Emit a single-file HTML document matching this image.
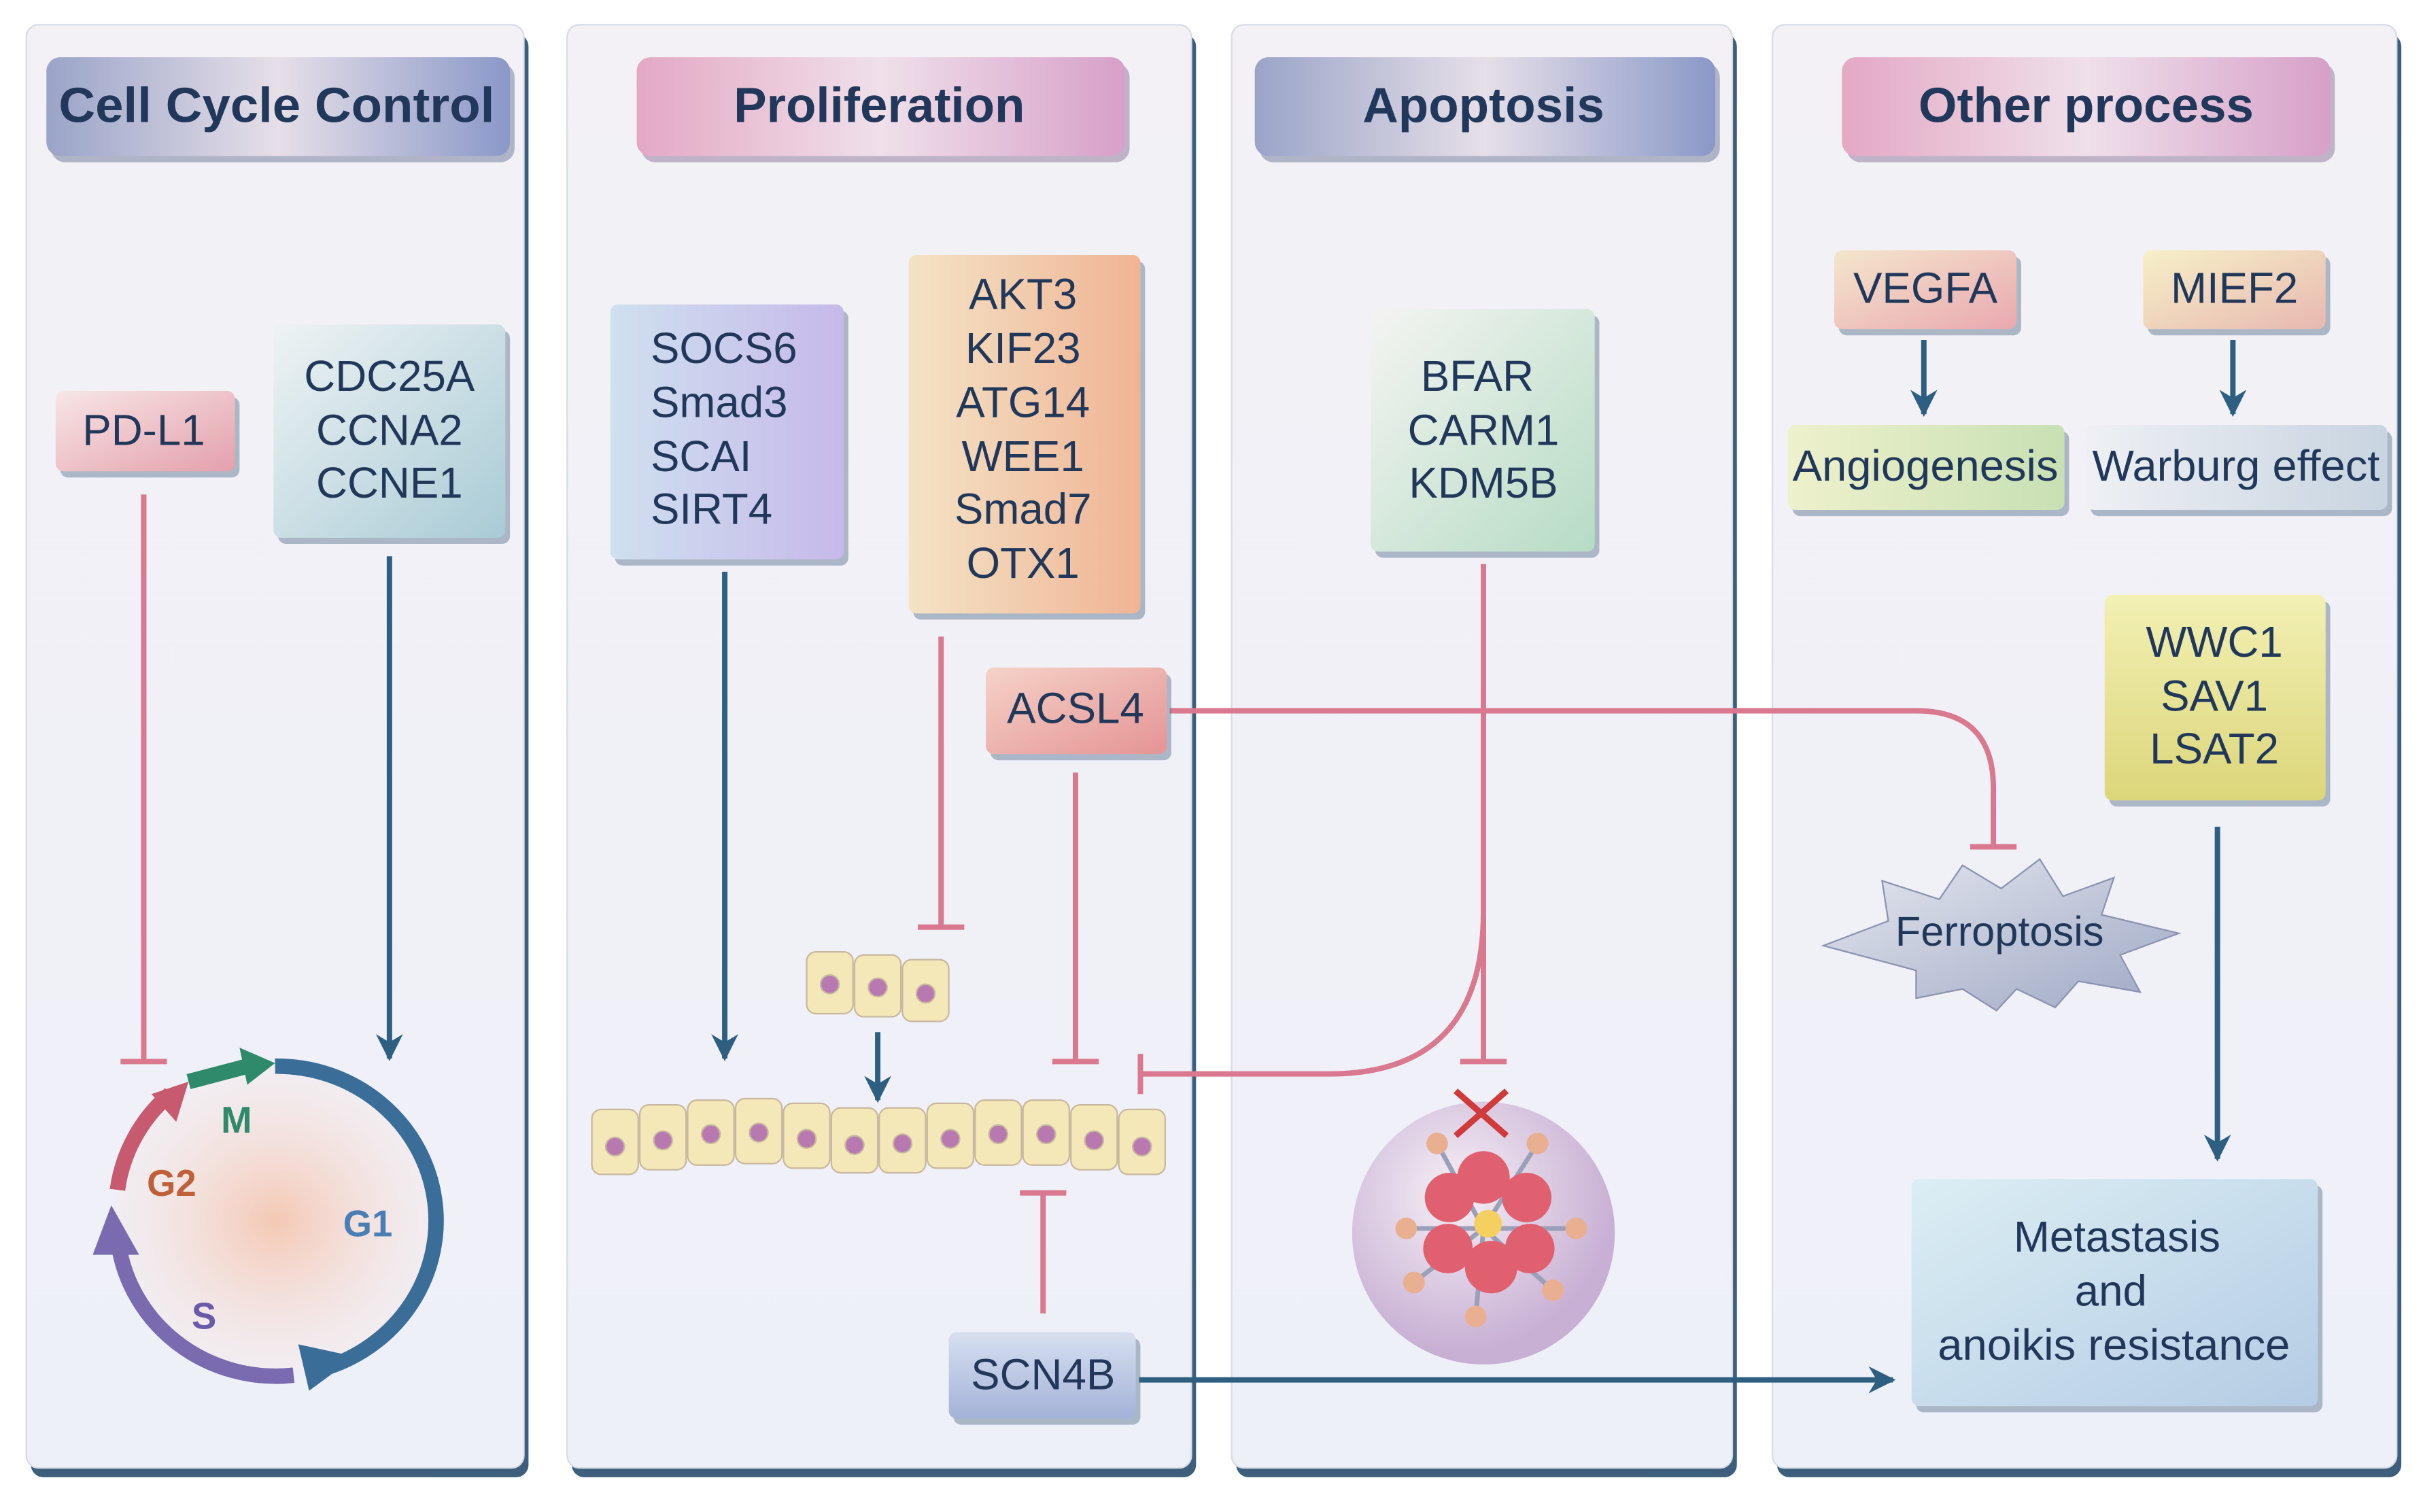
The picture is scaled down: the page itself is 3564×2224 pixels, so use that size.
<!DOCTYPE html>
<html><head><meta charset="utf-8"><style>
html,body{margin:0;padding:0;background:#fff;}
svg{display:block;}
text{font-family:"Liberation Sans",Arial,sans-serif;fill:#22385a;}
</style></head><body>
<svg width="3564" height="2224" viewBox="0 0 1568 978.5" xmlns="http://www.w3.org/2000/svg">
<defs>
<linearGradient id="pbg" x1="0" y1="0" x2="0" y2="1"><stop offset="0" stop-color="#f3f1f6"/><stop offset="1" stop-color="#eef0f8"/></linearGradient>
<linearGradient id="hblue" x1="0" y1="0" x2="1" y2="0"><stop offset="0" stop-color="#9aa4c8"/><stop offset=".5" stop-color="#e6dfe8"/><stop offset="1" stop-color="#8a98c8"/></linearGradient>
<linearGradient id="hpink" x1="0" y1="0" x2="1" y2="0"><stop offset="0" stop-color="#e4a8c4"/><stop offset=".5" stop-color="#efe0ea"/><stop offset="1" stop-color="#d7a0c8"/></linearGradient>
<linearGradient id="gpink" x1="0" y1="0" x2="1" y2="1"><stop offset="0" stop-color="#f7e6e6"/><stop offset="1" stop-color="#e4a0ac"/></linearGradient>
<linearGradient id="gcyan" x1="0" y1="0" x2="1" y2="1"><stop offset="0" stop-color="#eef3f4"/><stop offset="1" stop-color="#a9cbd6"/></linearGradient>
<linearGradient id="gpurp" x1="0" y1="0" x2="1" y2="0"><stop offset="0" stop-color="#cfe0ef"/><stop offset="1" stop-color="#c6b9ea"/></linearGradient>
<linearGradient id="gorng" x1="0" y1="0" x2="1" y2="0"><stop offset="0" stop-color="#f4e3c6"/><stop offset="1" stop-color="#f0b494"/></linearGradient>
<linearGradient id="gred" x1="0" y1="0" x2="1" y2="1"><stop offset="0" stop-color="#f5d2c8"/><stop offset="1" stop-color="#e59494"/></linearGradient>
<linearGradient id="gscn" x1="0" y1="0" x2="0" y2="1"><stop offset="0" stop-color="#d6e0f0"/><stop offset="1" stop-color="#a4b2d8"/></linearGradient>
<linearGradient id="ggreen" x1="0" y1="0" x2="1" y2="1"><stop offset="0" stop-color="#f4f4f2"/><stop offset="1" stop-color="#b6dcc4"/></linearGradient>
<linearGradient id="gveg" x1="0" y1="0" x2="1" y2="1"><stop offset="0" stop-color="#f4e6cc"/><stop offset="1" stop-color="#eaa8b0"/></linearGradient>
<linearGradient id="gmief" x1="0" y1="0" x2="1" y2="1"><stop offset="0" stop-color="#f6f0c8"/><stop offset="1" stop-color="#e8b8b0"/></linearGradient>
<linearGradient id="gang" x1="0" y1="0" x2="1" y2="0"><stop offset="0" stop-color="#eef1cc"/><stop offset="1" stop-color="#c8e0b4"/></linearGradient>
<linearGradient id="gwar" x1="0" y1="0" x2="1" y2="0"><stop offset="0" stop-color="#eef0f4"/><stop offset="1" stop-color="#c8d4e0"/></linearGradient>
<linearGradient id="gyel" x1="0" y1="0" x2="0" y2="1"><stop offset="0" stop-color="#f2f0b4"/><stop offset="1" stop-color="#dcd67a"/></linearGradient>
<linearGradient id="gmet" x1="0" y1="0" x2="1" y2="1"><stop offset="0" stop-color="#dceef4"/><stop offset="1" stop-color="#b4cce4"/></linearGradient>
<linearGradient id="gstar" x1="0" y1="0" x2="1" y2="1"><stop offset="0" stop-color="#e6e8f0"/><stop offset="1" stop-color="#9ea8c4"/></linearGradient>
<radialGradient id="gcyc" cx=".5" cy=".5" r=".5"><stop offset="0" stop-color="#f4c8b4"/><stop offset="1" stop-color="#f6eaea" stop-opacity=".4"/></radialGradient>
<radialGradient id="gapo" cx=".4" cy=".35" r=".6"><stop offset="0" stop-color="#f6f0f6"/><stop offset="1" stop-color="#c8b0d4"/></radialGradient>
<marker id="ab" viewBox="0 0 10 10" refX="9" refY="5" markerWidth="5" markerHeight="6" orient="auto" markerUnits="strokeWidth"><path d="M0,0 L10,5 L0,10 L3,5z" fill="#2e5f80"/></marker>
</defs>

<g>
<rect x="20" y="22" width="322" height="934" rx="8" fill="#3d5f7c"/>
<rect x="17" y="16" width="322" height="934" rx="8" fill="url(#pbg)" stroke="#d8dce6"/>
<rect x="370" y="22" width="404" height="934" rx="8" fill="#3d5f7c"/>
<rect x="367" y="16" width="404" height="934" rx="8" fill="url(#pbg)" stroke="#d8dce6"/>
<rect x="800" y="22" width="324" height="934" rx="8" fill="#3d5f7c"/>
<rect x="797" y="16" width="324" height="934" rx="8" fill="url(#pbg)" stroke="#d8dce6"/>
<rect x="1150" y="22" width="404" height="934" rx="8" fill="#3d5f7c"/>
<rect x="1147" y="16" width="404" height="934" rx="8" fill="url(#pbg)" stroke="#d8dce6"/>
</g>

<g font-weight="bold" font-size="32" text-anchor="middle">
<rect x="33" y="41" width="300" height="64" rx="9" fill="#6c7898" opacity=".5"/>
<rect x="30" y="37" width="300" height="64" rx="9" fill="url(#hblue)"/>
<text x="179" y="79" textLength="282" lengthAdjust="spacingAndGlyphs">Cell Cycle Control</text>
<rect x="415" y="41" width="316" height="64" rx="9" fill="#8c7898" opacity=".5"/>
<rect x="412" y="37" width="316" height="64" rx="9" fill="url(#hpink)"/>
<text x="569" y="79">Proliferation</text>
<rect x="815" y="41" width="298" height="64" rx="9" fill="#6c7898" opacity=".5"/>
<rect x="812" y="37" width="298" height="64" rx="9" fill="url(#hblue)"/>
<text x="960" y="79">Apoptosis</text>
<rect x="1195" y="41" width="316" height="64" rx="9" fill="#8c7898" opacity=".5"/>
<rect x="1192" y="37" width="316" height="64" rx="9" fill="url(#hpink)"/>
<text x="1350" y="79">Other process</text>
</g>

<g fill="none" stroke-width="3.5">
<g stroke="#d9788e">
<path d="M93,320 V687 M78,687 H108"/>
<path d="M609,412 V600 M594,600 H624"/>
<path d="M696,500 V687 M681,687 H711"/>
<path d="M757,460 H1240 Q1290,460 1290,510 V548 M1275,548 H1305"/>
<path d="M960,365 V687 M945,687 H975"/>
<path d="M960,590 Q960,695 860,695 H738 M738,682 V708"/>
<path d="M675,850 V772 M660,772 H690"/>
</g>
<g stroke="#2e5f80" marker-end="url(#ab)">
<path d="M252,360 V685"/>
<path d="M469,370 V685"/>
<path d="M568,668 V712"/>
<path d="M737,893 H1225"/>
<path d="M1245,220 V268"/>
<path d="M1445,220 V268"/>
<path d="M1435,535 V750"/>
</g>
</g>

<g font-size="28" text-anchor="middle">
<g fill="#56708a" opacity=".45">
<rect x="39" y="257" width="116" height="52" rx="5"/><rect x="180" y="214" width="150" height="138" rx="5"/>
<rect x="398" y="201" width="151" height="165" rx="5"/><rect x="591" y="169" width="150" height="232" rx="5"/>
<rect x="641" y="436" width="117" height="56" rx="5"/><rect x="617" y="866" width="121" height="56" rx="5"/>
<rect x="890" y="204" width="145" height="157" rx="5"/><rect x="1190" y="166" width="118" height="51" rx="5"/>
<rect x="1390" y="166" width="118" height="51" rx="5"/><rect x="1160" y="279" width="179" height="55" rx="5"/>
<rect x="1353" y="279" width="195" height="55" rx="5"/><rect x="1365" y="389" width="143" height="133" rx="5"/>
<rect x="1240" y="767" width="263" height="147" rx="5"/>
</g>
<rect x="36" y="253" width="116" height="52" rx="5" fill="url(#gpink)"/><text x="93" y="288">PD-L1</text>
<rect x="177" y="210" width="150" height="138" rx="5" fill="url(#gcyan)"/>
<text x="252" y="253">CDC25A</text><text x="252" y="288">CCNA2</text><text x="252" y="322">CCNE1</text>
<rect x="395" y="197" width="151" height="165" rx="5" fill="url(#gpurp)"/>
<g text-anchor="start"><text x="421" y="235">SOCS6</text><text x="421" y="270">Smad3</text><text x="421" y="305">SCAI</text><text x="421" y="339">SIRT4</text></g>
<rect x="588" y="165" width="150" height="232" rx="5" fill="url(#gorng)"/>
<text x="662" y="200">AKT3</text><text x="662" y="235">KIF23</text><text x="662" y="270">ATG14</text><text x="662" y="305">WEE1</text><text x="662" y="339">Smad7</text><text x="662" y="374">OTX1</text>
<rect x="638" y="432" width="117" height="56" rx="5" fill="url(#gred)"/><text x="696" y="468">ACSL4</text>
<rect x="614" y="862" width="121" height="56" rx="5" fill="url(#gscn)"/><text x="675" y="899">SCN4B</text>
<rect x="887" y="200" width="145" height="157" rx="5" fill="url(#ggreen)"/>
<text x="956" y="253">BFAR</text><text x="960" y="288">CARM1</text><text x="960" y="322">KDM5B</text>
<rect x="1187" y="162" width="118" height="51" rx="5" fill="url(#gveg)"/><text x="1246" y="196">VEGFA</text>
<rect x="1387" y="162" width="118" height="51" rx="5" fill="url(#gmief)"/><text x="1446" y="196">MIEF2</text>
<rect x="1157" y="275" width="179" height="55" rx="5" fill="url(#gang)"/><text x="1246" y="311" textLength="172" lengthAdjust="spacingAndGlyphs">Angiogenesis</text>
<rect x="1350" y="275" width="195" height="55" rx="5" fill="url(#gwar)"/><text x="1447" y="311" textLength="186" lengthAdjust="spacingAndGlyphs">Warburg effect</text>
<rect x="1362" y="385" width="143" height="133" rx="5" fill="url(#gyel)"/>
<text x="1433" y="425">WWC1</text><text x="1433" y="460">SAV1</text><text x="1433" y="494">LSAT2</text>
<rect x="1237" y="763" width="263" height="147" rx="5" fill="url(#gmet)"/>
<text x="1370" y="810">Metastasis</text><text x="1366" y="845">and</text><text x="1368" y="880" textLength="228" lengthAdjust="spacingAndGlyphs">anoikis resistance</text>
</g>

<polygon points="1180,612 1222,596 1218,570 1255,582 1270,560 1295,575 1320,556 1335,580 1368,568 1360,592 1410,604 1372,618 1385,642 1345,635 1330,652 1305,640 1292,654 1270,640 1240,646 1240,628" fill="url(#gstar)" stroke="#8a94b0"/>
<text x="1294" y="612" font-size="27" text-anchor="middle">Ferroptosis</text>

<ellipse cx="178" cy="790" rx="105" ry="100" fill="url(#gcyc)"/>
<g fill="none" stroke-width="10" stroke-linecap="butt">
<path d="M178,690 A103,100 0 0 1 208,886" stroke="#3a6e98"/>
<path d="M190,890 A103,100 0 0 1 76,800" stroke="#7a6ab0"/>
<path d="M76,770 A103,100 0 0 1 110,708" stroke="#c85a70"/>
<path d="M122,700 L160,690" stroke="#2e8a6a"/>
</g>
<polygon points="193,870 230,878 200,900" fill="#3a6e98"/>
<polygon points="60,812 72,780 90,812" fill="#7a6ab0"/>
<polygon points="98,708 122,700 114,726" fill="#c85a70"/>
<polygon points="155,678 178,688 160,702" fill="#2e8a6a"/>
<g font-weight="bold" font-size="24">
<text x="143" y="733" style="fill:#2e8a6a">M</text>
<text x="95" y="774" style="fill:#c0603a">G2</text>
<text x="222" y="800" style="fill:#4a7fb5">G1</text>
<text x="124" y="860" style="fill:#6a5aa8">S</text>
</g>

<g stroke="#c8b8a0" stroke-width="1" fill="#f5e8b8">
<rect x="383" y="718" width="30" height="42" rx="6"/><circle cx="398" cy="742" r="6" fill="#b878b0"/>
<rect x="414" y="715" width="30" height="42" rx="6"/><circle cx="429" cy="738" r="6" fill="#b878b0"/>
<rect x="445" y="712" width="30" height="42" rx="6"/><circle cx="460" cy="734" r="6" fill="#b878b0"/>
<rect x="476" y="711" width="30" height="42" rx="6"/><circle cx="491" cy="733" r="6" fill="#b878b0"/>
<rect x="507" y="714" width="30" height="42" rx="6"/><circle cx="522" cy="737" r="6" fill="#b878b0"/>
<rect x="538" y="717" width="30" height="42" rx="6"/><circle cx="553" cy="741" r="6" fill="#b878b0"/>
<rect x="569" y="717" width="30" height="42" rx="6"/><circle cx="584" cy="740" r="6" fill="#b878b0"/>
<rect x="600" y="714" width="30" height="42" rx="6"/><circle cx="615" cy="737" r="6" fill="#b878b0"/>
<rect x="631" y="712" width="30" height="42" rx="6"/><circle cx="646" cy="734" r="6" fill="#b878b0"/>
<rect x="662" y="712" width="30" height="42" rx="6"/><circle cx="677" cy="734" r="6" fill="#b878b0"/>
<rect x="693" y="715" width="30" height="42" rx="6"/><circle cx="708" cy="738" r="6" fill="#b878b0"/>
<rect x="724" y="718" width="30" height="42" rx="6"/><circle cx="739" cy="742" r="6" fill="#b878b0"/>
<rect x="522" y="616" width="30" height="40" rx="6"/><circle cx="537" cy="637" r="6" fill="#b878b0"/>
<rect x="553" y="618" width="30" height="40" rx="6"/><circle cx="568" cy="639" r="6" fill="#b878b0"/>
<rect x="584" y="621" width="30" height="40" rx="6"/><circle cx="599" cy="643" r="6" fill="#b878b0"/>
</g>

<circle cx="960" cy="798" r="85" fill="url(#gapo)"/>
<g stroke="#9aa0b8" stroke-width="3">
<line x1="960" y1="795" x2="930" y2="740"/><line x1="960" y1="795" x2="995" y2="740"/>
<line x1="960" y1="795" x2="910" y2="795"/><line x1="960" y1="795" x2="1020" y2="795"/>
<line x1="960" y1="795" x2="915" y2="830"/><line x1="960" y1="795" x2="1005" y2="835"/>
<line x1="960" y1="795" x2="955" y2="852"/>
</g>
<g fill="#e06070">
<circle cx="960" cy="762" r="17"/><circle cx="988" cy="775" r="16"/><circle cx="990" cy="808" r="16"/>
<circle cx="965" cy="820" r="17"/><circle cx="937" cy="808" r="16"/><circle cx="938" cy="775" r="16"/>
</g>
<circle cx="963" cy="792" r="9" fill="#f4d060"/>
<g fill="#e8b090">
<circle cx="930" cy="740" r="7"/><circle cx="995" cy="740" r="7"/><circle cx="910" cy="795" r="7"/><circle cx="1020" cy="795" r="7"/>
<circle cx="915" cy="830" r="7"/><circle cx="1005" cy="835" r="7"/><circle cx="955" cy="852" r="7"/>
</g>
<path d="M942,706 L975,735 M975,706 L942,735" stroke="#d03a3a" stroke-width="4"/>
</svg>
</body></html>
